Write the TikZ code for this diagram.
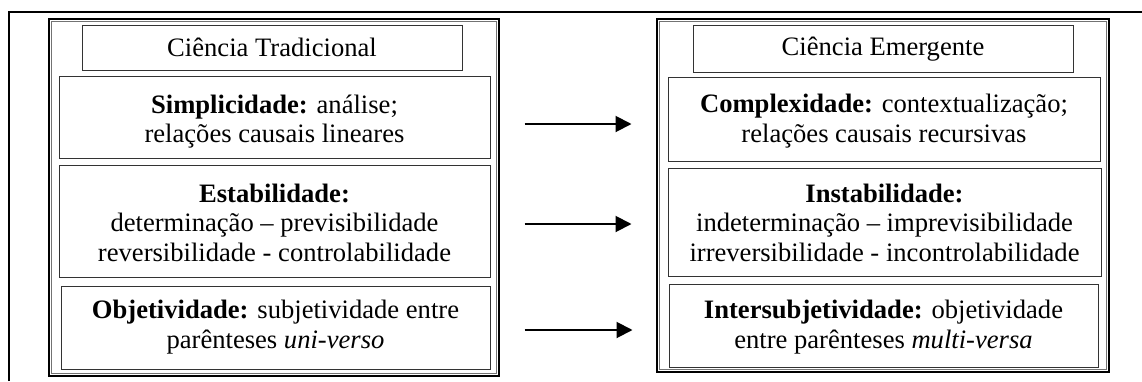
\documentclass[tikz,border=0pt]{standalone}
\usepackage{fontspec}
\setmainfont{Liberation Serif}
\usetikzlibrary{arrows.meta}

% centred lines, lowered inside their box without changing its size
\newcommand{\boxtext}[2][0pt]{%
  \raisebox{-#1}[\height][\depth]{\begin{tabular}{@{}c@{}}#2\end{tabular}}}

\tikzset{
  headbox/.style={draw=black!80, line width=0.5pt, inner sep=0pt,
    font=\fontsize{13.3}{14.8}\selectfont},
  itembox/.style={draw=black!80, line width=0.5pt, inner sep=0pt,
    font=\fontsize{13.3}{14.8}\selectfont},
  panelbox/.style={draw=black, line width=1.1pt, inner sep=0pt},
  changearrow/.style={line width=1pt, -{Triangle[length=8pt,width=8pt]},
    shorten <=17pt, shorten >=18pt}
}

\begin{document}
\begin{tikzpicture}[x=0.5pt, y=-0.5pt]
\useasboundingbox (0,0) rectangle (1142,381);

% partial outer frame
\draw[line width=1pt] (9,381) |- (1142,12);

% left panel
\node[panelbox, minimum width=225pt, minimum height=178.5pt] (lp) at (274,197.5) {};
\draw[black!55, line width=0.4pt] (51.5,21.5) rectangle (496.5,373.5);

\node[headbox, minimum width=190pt, minimum height=22.5pt] (lt) at (272,47.5)
  {\boxtext[1.5pt]{Ciência Tradicional}};
\node[itembox, minimum width=215.5pt, minimum height=41pt] (l1) at (274.5,117)
  {\boxtext[2.5pt]{\textbf{Simplicidade:} análise;\\ relações causais lineares}};
\node[itembox, minimum width=215.5pt, minimum height=56pt] (l2) at (274.5,221)
  {\boxtext[2.5pt]{\textbf{Estabilidade:}\\ determinação – previsibilidade\\ reversibilidade - controlabilidade}};
\node[itembox, minimum width=214.5pt, minimum height=41.5pt] (l3) at (275.5,327.5)
  {\boxtext[0pt]{\textbf{Objetividade:} subjetividade entre\\ parênteses \textit{uni-verso}}};

% right panel
\node[panelbox, minimum width=226pt, minimum height=176.5pt] (rp) at (883,195.5) {};
\draw[black!55, line width=0.4pt] (659.5,21.5) rectangle (1106.5,369.5);

\node[headbox, minimum width=190pt, minimum height=23.5pt] (rt) at (883,48.5)
  {\boxtext[0.5pt]{Ciência Emergente}};
\node[itembox, minimum width=216pt, minimum height=42pt] (r1) at (884,119)
  {\boxtext[1.25pt]{\textbf{Complexidade:} contextualização;\\ relações causais recursivas}};
\node[itembox, minimum width=216.5pt, minimum height=54pt] (r2) at (884.5,222)
  {\boxtext[2pt]{\textbf{Instabilidade:}\\ indeterminação – imprevisibilidade\\ irreversibilidade - incontrolabilidade}};
\node[itembox, minimum width=214.5pt, minimum height=41.5pt] (r3) at (883.5,325.5)
  {\boxtext[1pt]{\textbf{Intersubjetividade:} objetividade\\ entre parênteses \textit{multi-versa}}};

% transitions between the two views
\draw[changearrow] ([yshift=-3.5pt]l1.east) -- ([yshift=-3.5pt]l1.east -| r1.west);
\draw[changearrow] ([yshift=-1.5pt]l2.east) -- ([yshift=-1.5pt]l2.east -| r2.west);
\draw[changearrow] ([yshift=-1.25pt]l3.east) -- ([yshift=-1.25pt]l3.east -| r3.west);
\end{tikzpicture}
\end{document}
